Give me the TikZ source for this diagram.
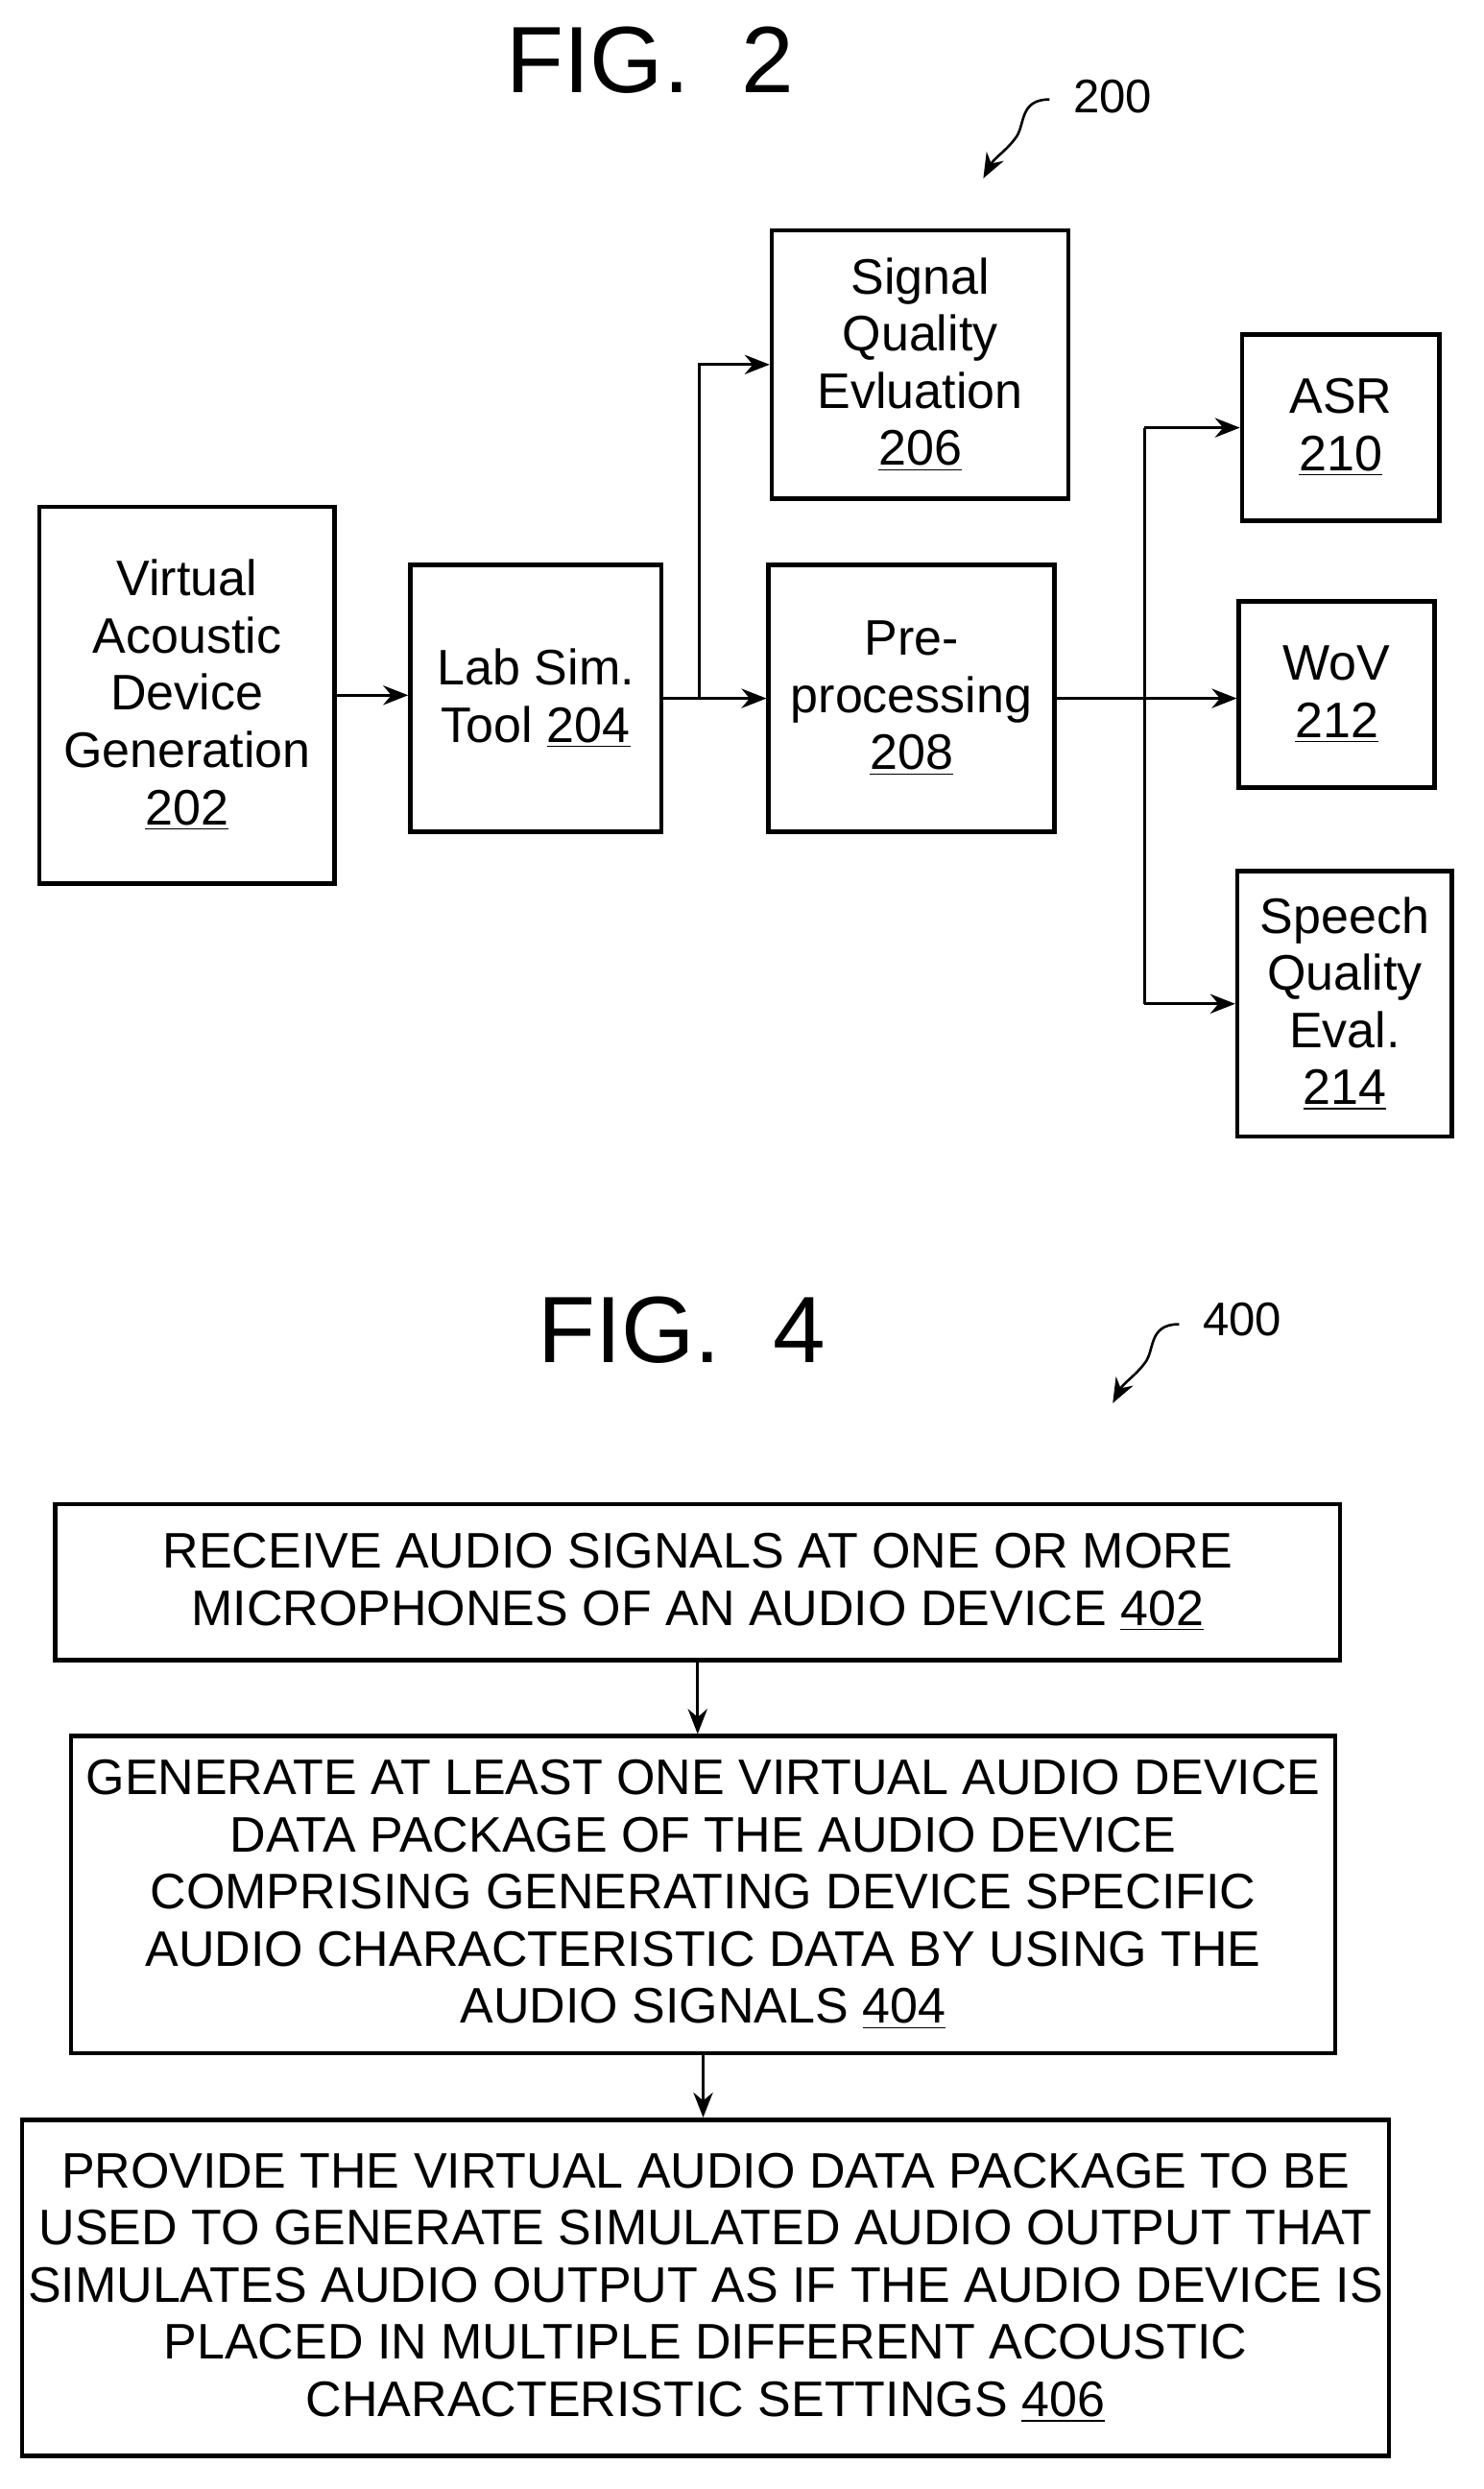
\documentclass[tikz,border=0pt]{standalone}
\usepackage{fontspec}
\setmainfont{Liberation Sans}
\usetikzlibrary{arrows.meta}
\begin{document}
\begin{tikzpicture}[
  x=0.02cm, y=-0.02cm,
  box/.style = {
    draw,
    line width=1.6pt,
    shape=rectangle,
    inner sep=0pt,
    align=center,
    font=\fontsize{18}{20.6}\selectfont
  },
  arr/.style = {-{Stealth[length=9pt,width=7pt]}, line width=1.1pt},
  fig/.style = {font=\fontsize{34}{38}\selectfont},
  ref/.style = {font=\fontsize{17}{20}\selectfont},
]
  \useasboundingbox (0,0) rectangle (940,1577);
  % FIG. 2
  \node (fig2)[fig] at (412,38) {FIG.\ \ 2};
  \node (n200)[ref] at (705,61) {200};
  \coordinate (t200) at (665,63);
  \coordinate (h200) at (623,113);
  \draw[arr, line width=0.9pt] (t200) .. controls (645,63) and (650,80) .. (643,88)
    .. controls (637,96) and (630,100) .. (h200);

  \node (vadg)[box, minimum width=3.74cm, minimum height=4.78cm] at (118.5,440.5)
    {Virtual\\Acoustic\\Device\\Generation\\\underline{202}};
  \node (lab)[box, minimum width=3.18cm, minimum height=3.38cm] at (339.5,442.5)
    {Lab Sim.\\Tool \underline{204}};
  \node (sig)[box, minimum width=3.76cm, minimum height=3.4cm] at (583,231)
    {Signal\\Quality\\Evluation\\\underline{206}};
  \node (pre)[box, minimum width=3.62cm, minimum height=3.38cm] at (577.5,442.5)
    {Pre-\\processing\\\underline{208}};
  \node (asr)[box, minimum width=2.5cm, minimum height=2.36cm] at (849.5,271)
    {ASR\\\underline{210}};
  \node (wov)[box, minimum width=2.48cm, minimum height=2.36cm] at (847,440)
    {WoV\\\underline{212}};
  \node (sqe)[box, minimum width=2.72cm, minimum height=3.36cm] at (852,636)
    {Speech\\Quality\\Eval.\\\underline{214}};

  \coordinate (split) at (443,442.5);
  \coordinate (fork) at (725,442.5);
  \draw[arr] (vadg.east) -- (vadg.east -| lab.west);
  \draw[arr] (lab.east) -- (pre.west);
  \draw[arr] (split) |- (sig.west);
  \draw[arr] (pre.east) -- (pre.east -| wov.west);
  \draw[line width=1.1pt] (fork |- asr.west) -- (fork |- sqe.west);
  \draw[arr] (fork |- asr.west) -- (asr.west);
  \draw[arr] (fork |- sqe.west) -- (sqe.west);

  % FIG. 4
  \node (fig4)[fig] at (432,843) {FIG.\ \ 4};
  \node (n400)[ref] at (787,836) {400};
  \coordinate (t400) at (747,839);
  \coordinate (h400) at (705,889);
  \draw[arr, line width=0.9pt] (t400) .. controls (727,839) and (732,856) .. (725,864)
    .. controls (719,872) and (712,876) .. (h400);

  \node (recv)[box, minimum width=16.28cm, minimum height=1.98cm] at (442,1002.5)
    {RECEIVE AUDIO SIGNALS AT ONE OR MORE\\MICROPHONES OF AN AUDIO DEVICE \underline{402}};
  \node (gen)[box, minimum width=16.02cm, minimum height=4.02cm] at (445.5,1200.5)
    {GENERATE AT LEAST ONE VIRTUAL AUDIO DEVICE\\DATA PACKAGE OF THE AUDIO DEVICE\\COMPRISING GENERATING DEVICE SPECIFIC\\AUDIO CHARACTERISTIC DATA BY USING THE\\AUDIO SIGNALS \underline{404}};
  \node (prov)[box, minimum width=17.32cm, minimum height=4.26cm] at (447,1449.5)
    {PROVIDE THE VIRTUAL AUDIO DATA PACKAGE TO BE\\USED TO GENERATE SIMULATED AUDIO OUTPUT THAT\\SIMULATES AUDIO OUTPUT AS IF THE AUDIO DEVICE IS\\PLACED IN MULTIPLE DIFFERENT ACOUSTIC\\CHARACTERISTIC SETTINGS \underline{406}};

  \draw[arr] (recv.south) -- (gen.north -| recv.south);
  \draw[arr] (gen.south) -- (prov.north -| gen.south);
\end{tikzpicture}
\end{document}
